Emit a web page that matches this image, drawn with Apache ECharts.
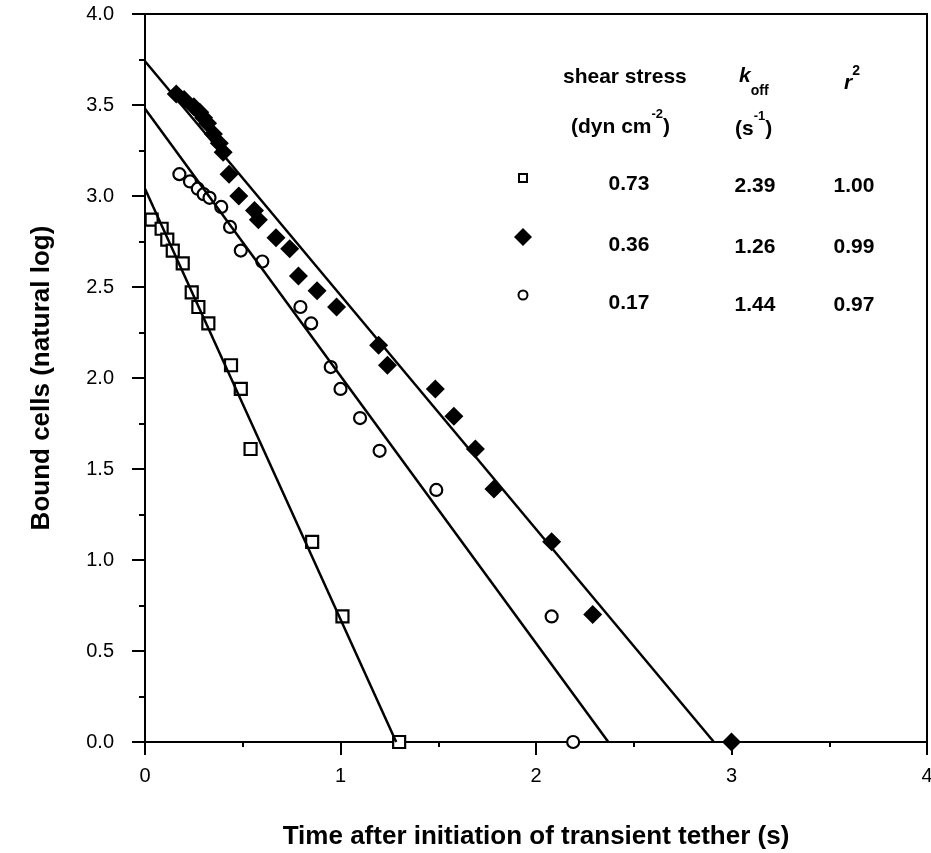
<!DOCTYPE html>
<html>
<head>
<meta charset="utf-8">
<script src="https://cdn.jsdelivr.net/npm/echarts@6/dist/echarts.min.js"></script>
<style>
  html, body { margin: 0; padding: 0; background: #fff; }
  #chart { width: 931px; height: 853px; }
</style>
</head>
<body>
<div id="chart"></div>
<script>
// Tick labels
const xTickLabels = ['0', '1', '2', '3', '4'];
const yTickLabels = ['0.0', '0.5', '1.0', '1.5', '2.0', '2.5', '3.0', '3.5', '4.0'];

// Shear stress 0.73 dyn cm-2 (open squares)
const squareT = [0.034, 0.085, 0.114, 0.142, 0.193, 0.239, 0.273, 0.324, 0.44, 0.49, 0.54, 0.855, 1.01, 1.30];
const squareV = [2.87, 2.82, 2.76, 2.70, 2.63, 2.47, 2.39, 2.30, 2.07, 1.94, 1.61, 1.10, 0.69, 0.00];

// Shear stress 0.36 dyn cm-2 (filled diamonds)
const diamondT = [0.16, 0.20, 0.25, 0.28, 0.30, 0.32, 0.35, 0.38, 0.40, 0.43, 0.48, 0.56, 0.58, 0.67, 0.74, 0.785, 0.88, 0.98, 1.195, 1.24, 1.485, 1.58, 1.69, 1.785, 2.08, 2.29, 3.00];
const diamondV = [3.56, 3.53, 3.49, 3.46, 3.43, 3.40, 3.34, 3.29, 3.24, 3.12, 3.00, 2.92, 2.87, 2.77, 2.71, 2.56, 2.48, 2.39, 2.18, 2.07, 1.94, 1.79, 1.61, 1.39, 1.10, 0.70, 0.00];

// Shear stress 0.17 dyn cm-2 (open circles)
const circleT = [0.176, 0.23, 0.27, 0.30, 0.33, 0.39, 0.435, 0.49, 0.60, 0.795, 0.85, 0.95, 1.00, 1.10, 1.20, 1.49, 2.08, 2.19];
const circleV = [3.12, 3.08, 3.04, 3.01, 2.99, 2.94, 2.83, 2.70, 2.64, 2.39, 2.30, 2.06, 1.94, 1.78, 1.60, 1.385, 0.69, 0.00];

// Fitted regression lines (start and end points)
const squareFitT = [0, 1.285];
const squareFitV = [3.04, 0];
const diamondFitT = [0, 2.91];
const diamondFitV = [3.74, 0];
const circleFitT = [0, 2.37];
const circleFitV = [3.48, 0];

// Inset table
const tableShear = ['0.73', '0.36', '0.17'];
const tableKoff = ['2.39', '1.26', '1.44'];
const tableR2 = ['1.00', '0.99', '0.97'];

const FONT = 'Liberation Sans, Arial, Helvetica, sans-serif';
const zip = (a, b) => a.map((v, i) => [v, b[i]]);

const chart = echarts.init(document.getElementById('chart'), null, { renderer: 'canvas' });

const G = { left: 145, right: 4, top: 14, bottom: 111 };

const tableFont = { fontFamily: FONT, fontWeight: 'bold', fontSize: 21, fill: '#000' };
const colX = [629, 755, 854];
const rowY = [184, 245, 303];
const markX = 523;

const graphics = [];
// column headers
graphics.push({ type: 'text', left: colX[0] - 66, top: 67, style: Object.assign({ text: 'shear stress' }, tableFont) });
graphics.push({
  type: 'text', left: colX[0] - 58, top: 108,
  style: {
    text: '{m|(dyn cm}{s|-2}{m|)}',
    rich: {
      m: { fontFamily: FONT, fontWeight: 'bold', fontSize: 21, lineHeight: 30, verticalAlign: 'bottom' },
      s: { fontFamily: FONT, fontWeight: 'bold', fontSize: 13, lineHeight: 30, verticalAlign: 'top' }
    }
  }
});
graphics.push({
  type: 'text', left: colX[1] - 16, top: 66,
  style: {
    text: '{k|k}{o|off}',
    rich: {
      k: { fontFamily: FONT, fontWeight: 'bold', fontStyle: 'italic', fontSize: 21, lineHeight: 34, verticalAlign: 'top' },
      o: { fontFamily: FONT, fontWeight: 'bold', fontSize: 14, lineHeight: 34, verticalAlign: 'bottom', padding: [0, 0, 2, 0] }
    }
  }
});
graphics.push({
  type: 'text', left: colX[1] - 20, top: 110,
  style: {
    text: '{m|(s}{s|-1}{m|)}',
    rich: {
      m: { fontFamily: FONT, fontWeight: 'bold', fontSize: 21, lineHeight: 30, verticalAlign: 'bottom' },
      s: { fontFamily: FONT, fontWeight: 'bold', fontSize: 13, lineHeight: 30, verticalAlign: 'top' }
    }
  }
});
graphics.push({
  type: 'text', left: colX[2] - 10, top: 64,
  style: {
    text: '{r|r}{s|2}',
    rich: {
      r: { fontFamily: FONT, fontWeight: 'bold', fontStyle: 'italic', fontSize: 21, lineHeight: 30, verticalAlign: 'bottom' },
      s: { fontFamily: FONT, fontWeight: 'bold', fontSize: 14, lineHeight: 30, verticalAlign: 'top' }
    }
  }
});
// value rows
[tableShear, tableKoff, tableR2].forEach((col, ci) => {
  col.forEach((txt, ri) => {
    graphics.push({
      type: 'text', x: colX[ci], y: rowY[ri] + (ci > 0 ? 2 : 0),
      style: Object.assign({ text: txt, align: 'center', verticalAlign: 'middle' }, tableFont)
    });
  });
});
// key symbols
graphics.push({ type: 'rect', shape: { x: markX - 4, y: 174, width: 8, height: 8 }, style: { fill: '#fff', stroke: '#000', lineWidth: 2 } });
graphics.push({ type: 'polygon', shape: { points: [[markX, 228], [markX + 9, 237], [markX, 246], [markX - 9, 237]] }, style: { fill: '#000' } });
graphics.push({ type: 'circle', shape: { cx: markX, cy: 295, r: 4.5 }, style: { fill: '#fff', stroke: '#000', lineWidth: 2 } });

const lineStyle = { color: '#000', width: 2.5 };

const option = {
  backgroundColor: '#fff',
  animation: false,
  grid: Object.assign({
    show: true, borderColor: '#000', borderWidth: 2, backgroundColor: 'transparent',
    containLabel: false, outerBoundsMode: 'none'
  }, G),
  xAxis: {
    type: 'value', min: 0, max: 4, interval: 1,
    name: 'Time after initiation of transient tether (s)',
    nameLocation: 'middle', nameGap: 82,
    nameTextStyle: { fontFamily: FONT, fontWeight: 'bold', fontSize: 26, color: '#000' },
    axisLine: { show: true, onZero: false, lineStyle: { color: '#000', width: 2 } },
    axisTick: { show: true, length: 13, lineStyle: { color: '#000', width: 2 } },
    minorTick: { show: true, splitNumber: 2, length: 5, lineStyle: { color: '#000', width: 2 } },
    splitLine: { show: false },
    axisLabel: {
      margin: 24, fontFamily: FONT, fontSize: 20, color: '#000',
      formatter: v => xTickLabels[Math.round(v)]
    }
  },
  yAxis: {
    type: 'value', min: 0, max: 4, interval: 0.5,
    name: 'Bound cells (natural log)',
    nameLocation: 'middle', nameGap: 90,
    nameTextStyle: { fontFamily: FONT, fontWeight: 'bold', fontSize: 26, color: '#000' },
    axisLine: { show: true, onZero: false, lineStyle: { color: '#000', width: 2 } },
    axisTick: { show: true, length: 13, lineStyle: { color: '#000', width: 2 } },
    minorTick: { show: true, splitNumber: 2, length: 6, lineStyle: { color: '#000', width: 2 } },
    splitLine: { show: false },
    axisLabel: {
      margin: 31, fontFamily: FONT, fontSize: 20, color: '#000',
      formatter: v => yTickLabels[Math.round(v * 2)]
    }
  },
  graphic: graphics,
  series: [
    {
      type: 'scatter', name: '0.73', data: zip(squareT, squareV),
      symbol: 'rect', symbolSize: 12,
      itemStyle: { color: '#fff', borderColor: '#000', borderWidth: 2.2, opacity: 1 }, z: 3
    },
    {
      type: 'scatter', name: '0.36', data: zip(diamondT, diamondV),
      symbol: 'diamond', symbolSize: 19,
      itemStyle: { color: '#000', opacity: 1 }, z: 3
    },
    {
      type: 'scatter', name: '0.17', data: zip(circleT, circleV),
      symbol: 'circle', symbolSize: 12,
      itemStyle: { color: '#fff', borderColor: '#000', borderWidth: 2.2, opacity: 1 }, z: 3
    },
    { type: 'line', data: zip(squareFitT, squareFitV), showSymbol: false, lineStyle, z: 4 },
    { type: 'line', data: zip(diamondFitT, diamondFitV), showSymbol: false, lineStyle, z: 4 },
    { type: 'line', data: zip(circleFitT, circleFitV), showSymbol: false, lineStyle, z: 4 }
  ]
};

chart.setOption(option);
</script>
</body>
</html>
